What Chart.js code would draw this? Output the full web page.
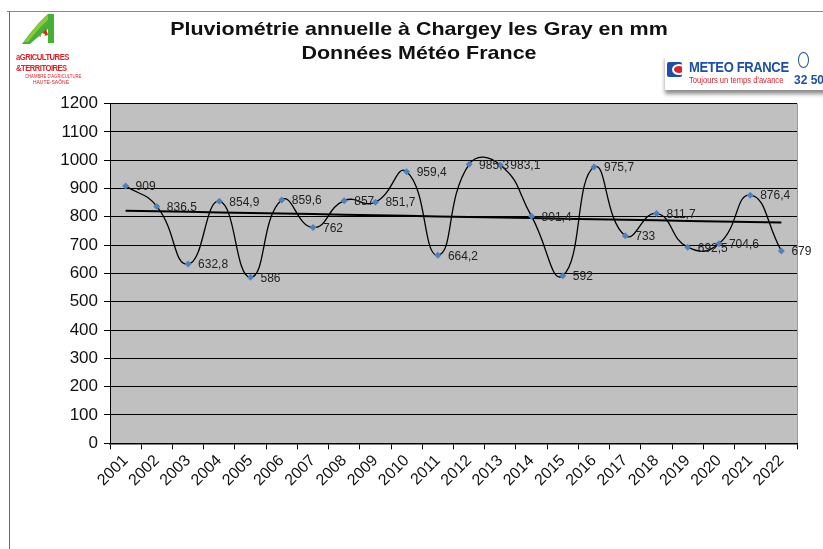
<!DOCTYPE html>
<html><head><meta charset="utf-8">
<script src="https://cdn.jsdelivr.net/npm/chart.js@4.4.1/dist/chart.umd.min.js"></script>
<style>
html,body{margin:0;padding:0;background:#fff;}
#wrap{position:relative;width:823px;height:549px;overflow:hidden;font-family:"Liberation Sans",Arial,sans-serif;}
#c{position:absolute;left:0;top:0;}
.frameTop{position:absolute;left:7px;top:11px;width:816px;height:1px;background:#8a8a8a;}
.frameLeft{position:absolute;left:9px;top:11px;width:1px;height:538px;background:#6a6a6a;}
.title{position:absolute;left:0;width:838px;text-align:center;font-weight:bold;font-size:19px;color:#111;transform:scaleX(1.13);transform-origin:419px 0;}
.mf{position:absolute;left:665px;top:55px;width:170px;height:35px;background:#fff;box-shadow:0 4px 4px rgba(0,0,0,0.45);}
</style></head>
<body><div id="wrap">
<canvas id="c" width="823" height="549"></canvas>
<div class="frameTop"></div><div class="frameLeft"></div>
<div class="title" style="top:18px;">Pluviométrie annuelle à Chargey les Gray en mm</div>
<div class="title" style="top:42px;">Données Météo France</div>
<!-- left logo -->
<svg style="position:absolute;left:14px;top:13px" width="62" height="36" viewBox="0 0 62 36">
<path d="M34 1 L40 1 L40 30 L34 30 L34 16 C28 20 22 26 16 31 L8 31 C16 20 25 9 34 1 Z" fill="#45b035"/>
<path d="M34 1 C26 8 18 18 10 29 L14 29 C22 19 28 12 34 7 Z" fill="#8cc63f"/>
<path d="M25 24 L32 16 L34 22 Z" fill="#e2231a"/>
<path d="M28 20 C26 24 26 27 30 29 L34 29 L34 25 C31 25 30 23 31 21 Z" fill="#ffffff"/>
</svg>
<div style="position:absolute;left:16px;top:51px;font-size:9px;font-weight:bold;color:#d6262b;letter-spacing:-0.6px;line-height:10px;transform:scale(0.85,1.1);transform-origin:0 0;white-space:nowrap;">aGRICULTURES<br>&amp;TERRITOIRES</div>
<div style="position:absolute;left:15px;top:73px;width:54px;font-size:5px;color:#d6262b;line-height:6px;text-align:right;white-space:nowrap;"><span style="display:inline-block;transform:scaleX(0.85);transform-origin:100% 0;">CHAMBRE D'AGRICULTURE</span><br>HAUTE-SAÔNE</div>
<!-- Meteo France logo -->
<div class="mf">
 <div style="position:absolute;left:2px;top:7px;width:15px;height:15px;background:#1f4fa0;border-radius:2px;overflow:hidden;">
   <div style="position:absolute;left:5px;top:2px;width:14px;height:11px;border-radius:50%;background:#fff;"></div>
   <div style="position:absolute;left:7px;top:4px;width:10px;height:7px;border-radius:50%;background:#d3252d;"></div>
 </div>
 <div style="position:absolute;left:24px;top:4px;font-weight:bold;font-size:14px;color:#1f4fa0;letter-spacing:-0.4px;transform:scaleX(0.93);transform-origin:0 0;">METEO FRANCE</div>
 <div style="position:absolute;left:24px;top:19px;font-size:9.5px;color:#d3252d;transform:scaleX(0.8);transform-origin:0 0;white-space:nowrap;">Toujours un temps d'avance</div>
 <div style="position:absolute;left:133px;top:-3px;width:9px;height:14px;border:1.5px solid #1f4fa0;border-radius:50%;"></div>
 <div style="position:absolute;left:129px;top:18px;font-weight:bold;font-size:12px;color:#1f4fa0;">32 50</div>
</div>
</div>
<script>
const years = ["2001","2002","2003","2004","2005","2006","2007","2008","2009","2010","2011","2012","2013","2014","2015","2016","2017","2018","2019","2020","2021","2022"];
const rainfall = [909,836.5,632.8,854.9,586,859.6,762,857,851.7,959.4,664.2,985.3,983.1,801.4,592,975.7,733,811.7,692.5,704.6,876.4,679];
const yTicks = [0,100,200,300,400,500,600,700,800,900,1000,1100,1200];

// linear trend (least squares) derived from the series
const n = rainfall.length;
const mx = (n-1)/2;
const my = rainfall.reduce((a,b)=>a+b,0)/n;
let sxy=0,sxx=0;
rainfall.forEach((v,i)=>{sxy+=(i-mx)*(v-my);sxx+=(i-mx)*(i-mx);});
const slope = sxy/sxx;
const trend = rainfall.map((v,i)=>my+slope*(i-mx));

const plotBg = {
  id:'plotBg',
  beforeDraw(chart){
    const {ctx,chartArea:a}=chart;
    ctx.save();ctx.fillStyle='#c0c0c0';
    ctx.fillRect(a.left,a.top,a.right-a.left,a.bottom-a.top);
    ctx.strokeStyle='#9a9a9a';ctx.lineWidth=1;
    ctx.beginPath();ctx.moveTo(a.right+0.5,a.top);ctx.lineTo(a.right+0.5,a.bottom);ctx.stroke();
    ctx.restore();
  }
};
const dataLabels = {
  id:'dataLabels',
  afterDatasetsDraw(chart){
    const {ctx}=chart;
    const meta=chart.getDatasetMeta(0);
    ctx.save();
    ctx.font='12px "Liberation Sans", Arial, sans-serif';
    ctx.fillStyle='#222';ctx.textAlign='left';ctx.textBaseline='middle';
    meta.data.forEach((p,i)=>{
      ctx.fillText(String(rainfall[i]).replace('.',','),p.x+10,p.y+1);
    });
    ctx.restore();
  }
};

new Chart(document.getElementById('c'),{
  type:'line',
  data:{labels:years,datasets:[
    {data:rainfall,borderColor:'#000',borderWidth:1.3,tension:0.5,fill:false,
     pointStyle:'rectRot',pointRadius:3.5,pointBackgroundColor:'#4f81bd',pointBorderColor:'#4f81bd',pointBorderWidth:0},
    {data:trend,borderColor:'#000',borderWidth:2,tension:0,pointRadius:0,fill:false}
  ]},
  options:{
    responsive:false,animation:false,
    layout:{padding:{top:103.5,right:26,left:0,bottom:0}},
    plugins:{legend:{display:false},tooltip:{enabled:false}},
    scales:{
      x:{offset:true,
        grid:{offset:true,drawOnChartArea:false,drawTicks:true,tickLength:6,color:'#000'},
        border:{color:'#000',width:1.5},
        ticks:{color:'#111',font:{family:'"Liberation Sans", Arial, sans-serif',size:16},maxRotation:45,minRotation:45,autoSkip:false,padding:2},
        afterFit(s){s.height=105.7;}
      },
      y:{min:0,max:1200,
        afterBuildTicks(s){s.ticks=yTicks.map(v=>({value:v}));},
        grid:{color:'#000',lineWidth:1,tickLength:6,drawTicks:true},
        border:{color:'#000',width:1},
        ticks:{color:'#111',font:{family:'"Liberation Sans", Arial, sans-serif',size:17},padding:6,callback:(v)=>String(v)},
        afterFit(s){s.width=110;}
      }
    }
  },
  plugins:[plotBg,dataLabels]
});
</script>
</body></html>
